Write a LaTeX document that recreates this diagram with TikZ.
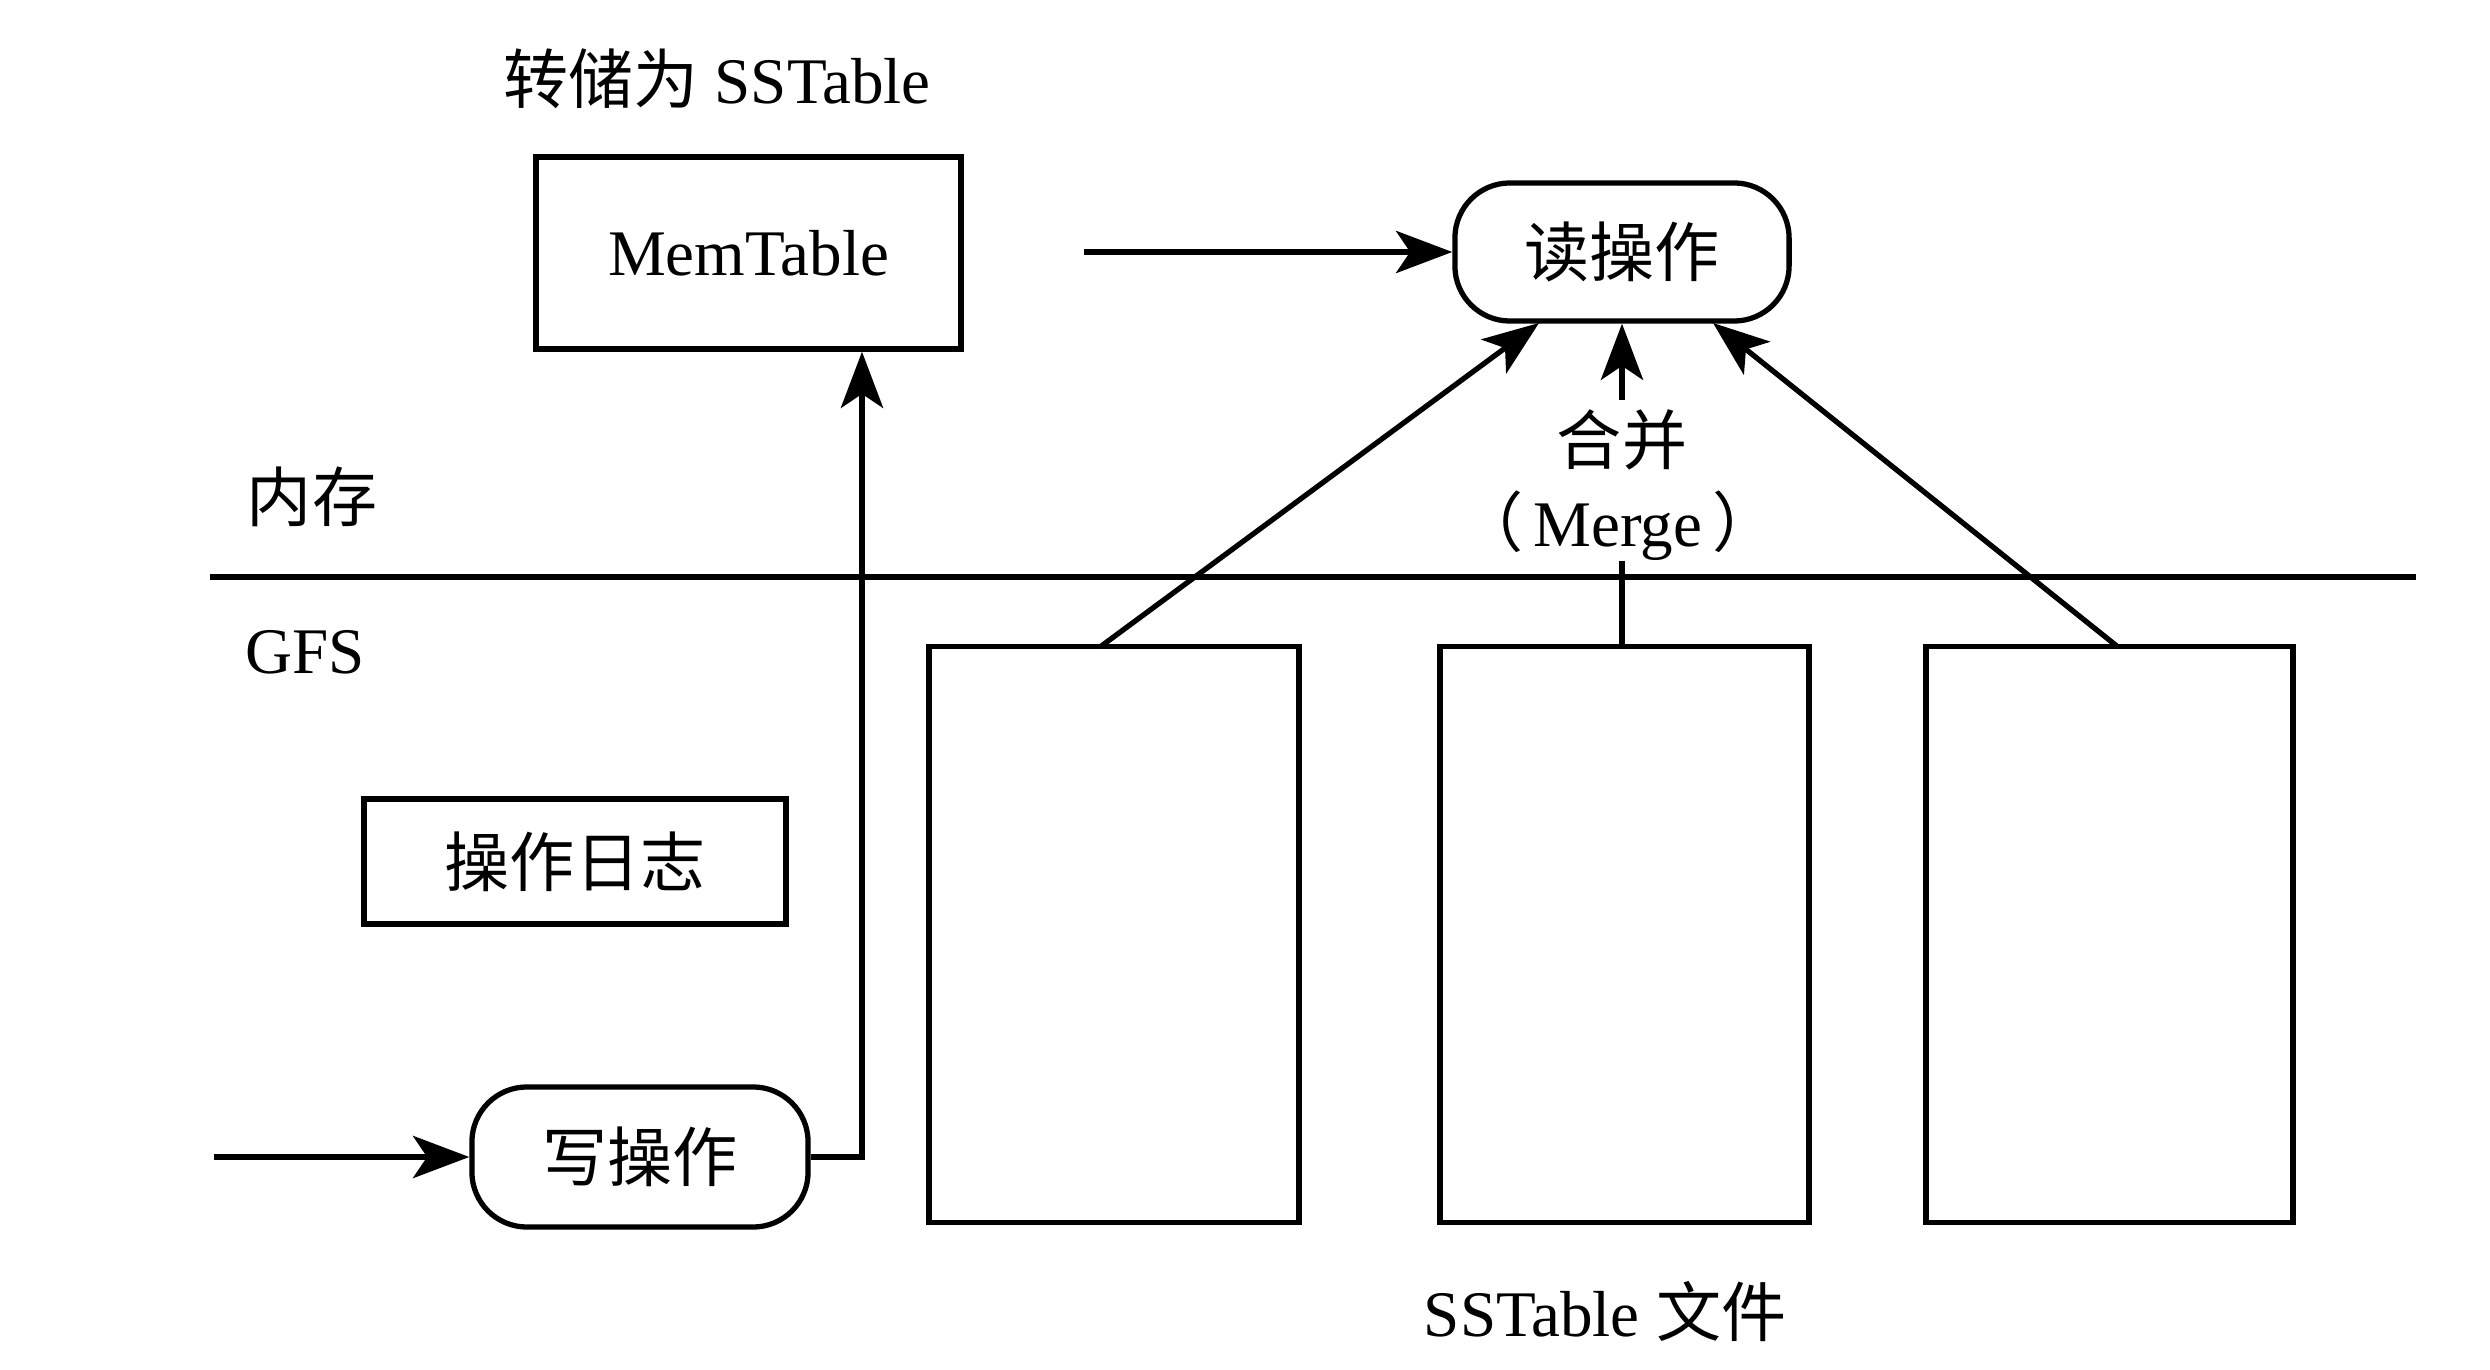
\documentclass[tikz,border=0pt]{standalone}
\usepackage{fontspec}
\setmainfont{Liberation Serif}
\newfontfamily\cjk{Noto Sans CJK SC}
\usetikzlibrary{arrows.meta}
\begin{document}
\begin{tikzpicture}[x={(0.01cm,0)}, y={(0,-0.01cm)},
  every node/.style={font=\fontsize{18.5}{22}\selectfont, inner sep=0pt},
  boxnode/.style={draw, line width=1.5pt, fill=white},
  opnode/.style={draw, line width=1.5pt, rounded corners=0.55cm},
  conn/.style={line width=1.5pt},
  arr/.style={line width=1.5pt, -{Stealth[length=16pt,width=12pt,inset=4pt]}}]
\useasboundingbox (0,0) rectangle (2490,1370);

% labels
\node (dump) at (717,79) {{\cjk 转储为} SSTable};
\node (mem) at (312,497) {\cjk 内存};
\node (gfs) at (305,652) {GFS};
\node (merge1) at (1622,440) {\cjk 合并};
\node (merge2) at (1618,526) {{\cjk （}\hspace{3pt}Merge\hspace{3pt}{\cjk ）}};
\node (sstf) at (1605,1312) {SSTable {\cjk 文件}};

% divider
\coordinate (lineL) at (210,577);
\coordinate (lineR) at (2416,577);
\draw[line width=1.7pt] (lineL) -- (lineR);

% boxes
\node[boxnode, minimum width=4.25cm, minimum height=1.92cm] (memtable) at (748.5,253) {MemTable};
\node[opnode, minimum width=3.34cm, minimum height=1.38cm] (read) at (1622,252) {\cjk 读操作};
\node[opnode, minimum width=3.36cm, minimum height=1.40cm] (write) at (640,1157) {\cjk 写操作};
\node[boxnode, minimum width=4.22cm, minimum height=1.25cm] (log) at (575,861.5) {\cjk 操作日志};
\node[boxnode, minimum width=3.70cm, minimum height=5.75cm] (ss1) at (1114,934.5) {};
\node[boxnode, minimum width=3.69cm, minimum height=5.75cm] (ss2) at (1624.5,934.5) {};
\node[boxnode, minimum width=3.67cm, minimum height=5.75cm] (ss3) at (2109.5,934.5) {};

% connectors
\coordinate (readin) at (1084,252);
\coordinate (writein) at (214,1157);
\coordinate (bend) at (862,1157);
\draw[arr] (readin) -- (read.west);
\draw[arr] (writein) -- (write.west);
\draw[arr] (write.east) -- (bend) -- (bend |- memtable.south);

\coordinate (s1top) at (1100,647);
\coordinate (s3top) at (2118,647);
\coordinate (rL) at (1539,323);
\coordinate (rR) at (1713,323);
\draw[arr] (s1top) -- (rL);
\draw[arr] (s3top) -- (rR);

\coordinate (mtop) at (1622,400);
\coordinate (mbot) at (1622,561);
\draw[arr] (mtop) -- (read.south);
\draw[conn] (mbot) -- (ss2.north -| mbot);
\end{tikzpicture}
\end{document}
